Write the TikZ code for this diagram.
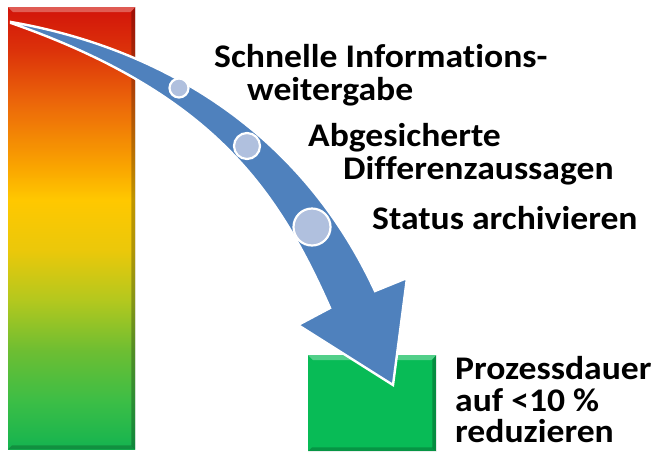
\documentclass[tikz,border=0pt]{standalone}
\usepackage{fontspec}
\setmainfont{Carlito}[Ligatures=NoCommon, FakeStretch=1.08]
\definecolor{arrowblue}{RGB}{79,129,189}
\definecolor{dotblue}{RGB}{176,192,222}
\definecolor{boxgreen}{RGB}{8,187,86}
\pgfdeclareverticalshading{barshade}{100bp}{%
color(0bp)=(green!60!black);
color(25bp)=(rgb,255:red,20;green,180;blue,80);
color(30.5bp)=(rgb,255:red,60;green,190;blue,70);
color(36.2bp)=(rgb,255:red,110;green,190;blue,50);
color(41.9bp)=(rgb,255:red,180;green,200;blue,30);
color(47.5bp)=(rgb,255:red,235;green,200;blue,10);
color(53.2bp)=(rgb,255:red,255;green,200;blue,0);
color(56.9bp)=(rgb,255:red,250;green,165;blue,0);
color(64.5bp)=(rgb,255:red,235;green,100;blue,10);
color(70.1bp)=(rgb,255:red,220;green,50;blue,10);
color(75bp)=(rgb,255:red,210;green,20;blue,10);
color(100bp)=(rgb,255:red,210;green,20;blue,10)}
\tikzset{
  lbl/.style={anchor=base west, inner sep=0pt, font=\fontsize{33}{34}\selectfont\bfseries, text=black},
  dot/.style={circle, fill=dotblue, draw=white, line width=2.2pt, inner sep=0pt},
  bevlight/.style={fill=white, fill opacity=0.3},
  bevdark/.style={fill=black, fill opacity=0.25},
}
\begin{document}
\begin{tikzpicture}[x=1pt,y=-1pt]
\useasboundingbox (0,0) rectangle (655,453);
% left bar
\node[rectangle, inner sep=0pt, minimum width=127pt, minimum height=442pt, shading=barshade, anchor=north west] (bar) at (8,7) {};
\fill[bevlight] (bar.north west) -- (bar.north east) -- ([xshift=-5pt,yshift=-5pt]bar.north east) -- ([xshift=5pt,yshift=-5pt]bar.north west) -- cycle;
\fill[bevdark] (bar.north east) -- (bar.south east) -- ([xshift=-4pt,yshift=4pt]bar.south east) -- ([xshift=-4pt,yshift=-5pt]bar.north east) -- cycle;
\fill[bevdark, fill opacity=0.2] (bar.south west) -- (bar.south east) -- ([xshift=-4pt,yshift=4pt]bar.south east) -- ([xshift=4pt,yshift=4pt]bar.south west) -- cycle;
% green box
\node[rectangle, inner sep=0pt, minimum width=128pt, minimum height=96pt, fill=boxgreen, anchor=north west] (box) at (308,355) {};
\fill[bevlight] (box.north west) -- (box.north east) -- ([xshift=-5pt,yshift=-5pt]box.north east) -- ([xshift=5pt,yshift=-5pt]box.north west) -- cycle;
\fill[bevdark] (box.north east) -- (box.south east) -- ([xshift=-4pt,yshift=4pt]box.south east) -- ([xshift=-4pt,yshift=-5pt]box.north east) -- cycle;
\fill[bevdark, fill opacity=0.2] (box.south west) -- (box.south east) -- ([xshift=-4pt,yshift=4pt]box.south east) -- ([xshift=4pt,yshift=4pt]box.south west) -- cycle;
% curved arrow
\filldraw[fill=arrowblue, draw=white, line width=2.4pt, line join=miter]
  (11,22) .. controls (161,48) and (301,131) .. (375,291)
  -- (407,278) -- (393,385) -- (298,325) -- (330,308)
  .. controls (277,188) and (211,93) .. (11,23) -- cycle;
% dots
\node[dot, minimum size=19pt] (d1) at (179,88) {};
\node[dot, minimum size=26pt] (d2) at (247,146) {};
\node[dot, minimum size=37pt] (d3) at (312,227) {};
% labels
\node[lbl] (t1) at (214,67) {Schnelle Informations-};
\node[lbl] (t2) at (247,100) {weitergabe};
\node[lbl] (t3) at (308,146) {Abgesicherte};
\node[lbl] (t4) at (343,179) {Differenzaussagen};
\node[lbl] (t5) at (372,229) {Status archivieren};
\node[lbl] (t6) at (455,379) {Prozessdauer};
\node[lbl] (t7) at (455,411) {auf <10 \%};
\node[lbl] (t8) at (455,442) {reduzieren};
\end{tikzpicture}
\end{document}
